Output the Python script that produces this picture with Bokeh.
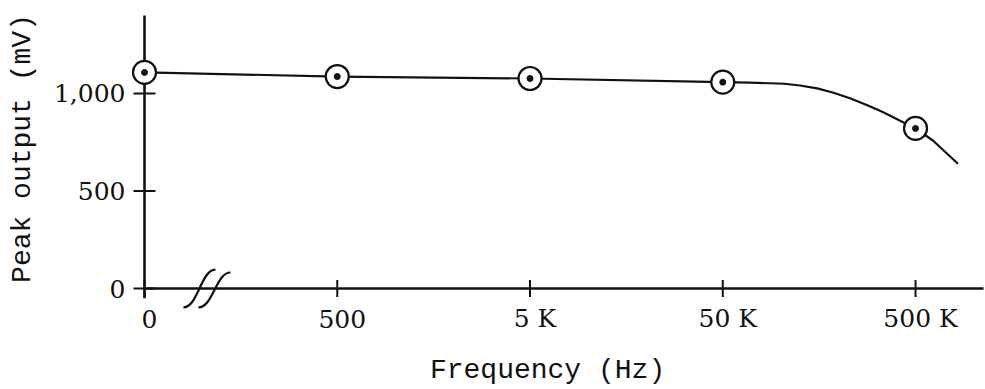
from bokeh.plotting import figure
from bokeh.models import Range1d, ColumnDataSource
from bokeh.core.properties import value
from bokeh.embed import file_html
from bokeh.resources import INLINE
import math

# ---- data ----
freq_labels = ["0", "500", "5 K", "50 K", "500 K"]
freq_pos = [0, 1, 2, 3, 4]                      # equally spaced decades (axis break after 0)
peak_mv = [1108, 1087, 1077, 1058, 821]          # measured points (mV)

curve_pos = [0, 1, 2, 3, 3.14, 3.32, 3.40, 3.49, 3.57, 3.66, 3.75, 3.83, 4.0, 4.09, 4.22]
curve_mv = [1108, 1087, 1077, 1058, 1056, 1050, 1041, 1026, 1005, 976, 940, 905, 821, 759, 640]

y_ticks = [0, 500, 1000]
y_tick_labels = ["0", "500", "1,000"]

x_title = "Frequency (Hz)"
y_title = "Peak output (mV)"

# ---- style ----
INK = "#111111"
TICK_FONT = value("DejaVu Serif")
TICK_SIZE = value("25px")
TITLE_FONT = value("Liberation Mono")
TITLE_SIZE = value("28px")
W, H = 985, 389

# plot area spans the whole canvas; the axes are drawn at x = 0 and y = 0
p = figure(width=W, height=H, output_backend="svg", toolbar_location=None,
           title=None,
           x_range=Range1d(-0.7471, 4.363), y_range=Range1d(-517.9, 1476.9),
           min_border_left=0, min_border_right=0,
           min_border_top=0, min_border_bottom=0)
p.xaxis.visible = False
p.yaxis.visible = False
p.grid.visible = False
p.outline_line_color = None
p.background_fill_color = "white"
p.border_fill_color = "white"

# axis lines
p.segment(x0=[0], y0=[-50], x1=[0], y1=[1400], line_color=INK, line_width=2.6)
p.segment(x0=[0], y0=[0], x1=[4.353], y1=[0], line_color=INK, line_width=2.6)

# ticks (crossing the axis lines)
p.scatter(x=[0] * len(y_ticks), y=y_ticks, marker="dash", size=22,
          line_color=INK, line_width=2)
p.scatter(x=freq_pos, y=[0] * len(freq_pos), marker="dash", size=17, angle=math.pi / 2,
          line_color=INK, line_width=2)

# tick labels
ysrc = ColumnDataSource(dict(x=[0] * len(y_ticks), y=y_ticks, t=y_tick_labels))
p.text(x="x", y="y", text="t", source=ysrc, x_offset=-19, y_offset=0, text_align="right",
       text_baseline="middle", text_font=TICK_FONT, text_font_size=TICK_SIZE, text_color=INK)
xsrc = ColumnDataSource(dict(x=freq_pos, y=[0] * len(freq_pos), t=freq_labels))
p.text(x="x", y="y", text="t", source=xsrc, x_offset=5, y_offset=30, text_align="center",
       text_baseline="middle", text_font=TICK_FONT, text_font_size=TICK_SIZE, text_color=INK)

# axis titles
p.text(x=[2.091], y=[-420], text=[x_title], text_align="center", text_baseline="middle",
       text_font=TITLE_FONT, text_font_size=TITLE_SIZE, text_color=INK)
p.text(x=[-0.633], y=[718], text=[y_title], text_align="center", text_baseline="middle",
       angle=math.pi / 2, text_font=TITLE_FONT, text_font_size=TITLE_SIZE, text_color=INK)

# axis break symbol (two integral-like strokes on the x axis)
for (bx0, by0, bx1, by1) in [(0.202, -97, 0.368, 97), (0.280, -97, 0.446, 82)]:
    dx = bx1 - bx0
    p.bezier(x0=[bx0], y0=[by0], x1=[bx1], y1=[by1],
             cx0=[bx0 + 0.45 * dx], cy0=[by0], cx1=[bx1 - 0.45 * dx], cy1=[by1],
             line_color=INK, line_width=2.2)

# response curve
p.line(curve_pos, curve_mv, line_color=INK, line_width=2.2, line_join="round")

# measured points: circled dots
p.scatter(freq_pos, peak_mv, marker="circle", size=23, fill_color="white",
          line_color=INK, line_width=2.2)
p.scatter(freq_pos, peak_mv, marker="circle", size=6, fill_color=INK, line_color=INK)

open("out.html", "w").write(file_html(p, INLINE))
